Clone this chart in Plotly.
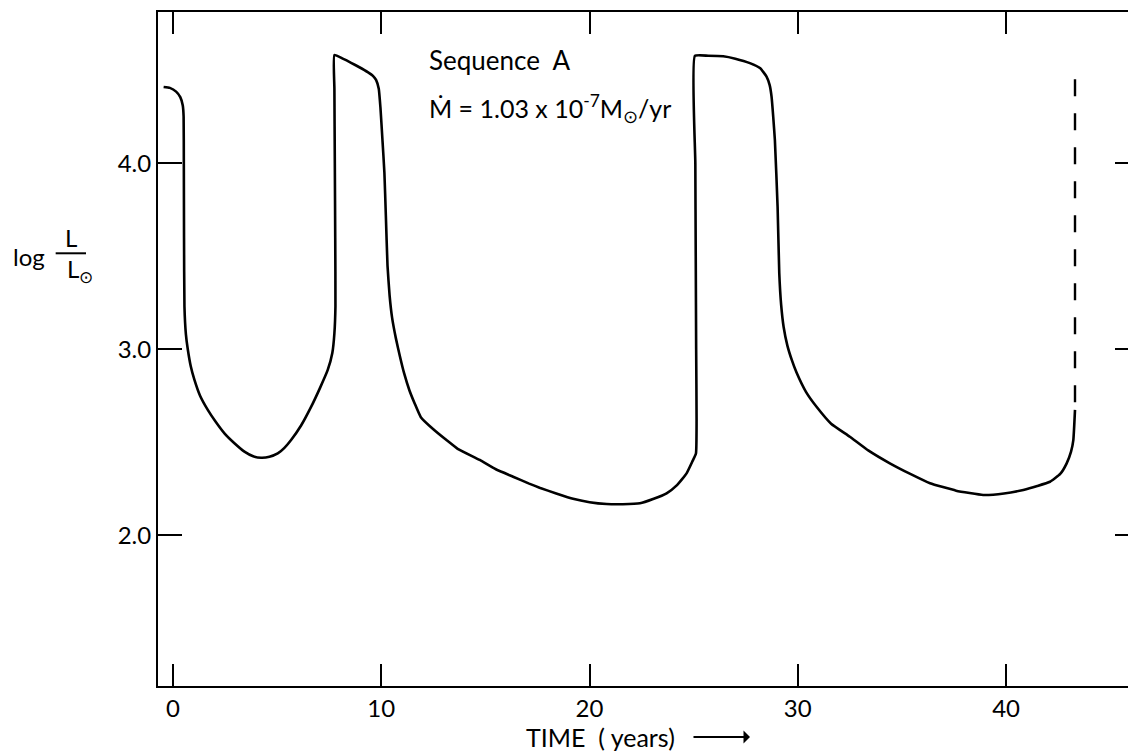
import plotly.graph_objects as go

# Luminosity history of the accreting model (time in years, log L/Lsun)
time_yr = [
    -0.45, -0.15, 0.15, 0.35, 0.47, 0.51, 0.52, 0.53, 0.55, 0.62, 0.71, 0.85,
    1.03, 1.30, 1.67, 2.05, 2.47, 2.95, 3.43, 3.85, 4.23, 4.63, 5.03, 5.35,
    5.67, 6.15, 6.63, 7.05, 7.43, 7.65, 7.75, 7.80, 7.79, 7.77, 7.75, 7.75,
    8.15, 8.55, 8.95, 9.35, 9.60, 9.75, 9.88, 9.96, 10.06, 10.15, 10.22, 10.30,
    10.40, 10.52, 10.70, 10.90, 11.10, 11.35, 11.60, 11.90, 12.50, 13.13, 13.67,
    14.73, 15.50, 16.33, 17.10, 17.60, 18.40, 19.21, 20.00, 20.82, 21.60, 22.42,
    23.05, 23.70, 24.20, 24.66, 24.95, 25.11, 25.14, 25.12, 25.10, 25.08, 25.06,
    25.70, 26.42, 27.00, 27.70, 28.20, 28.50, 28.65, 28.74, 28.82, 28.90, 29.03,
    29.11, 29.20, 29.32, 29.50, 29.72, 29.94, 30.40, 30.90, 31.60, 32.50, 33.40,
    34.42, 35.40, 36.35, 37.60, 38.90, 39.90, 40.83, 41.50, 42.11, 42.60, 42.91,
    43.12, 43.23, 43.31,
]
log_l = [
    4.410, 4.405, 4.385, 4.355, 4.310, 4.250, 4.000, 3.600, 3.230, 3.080, 3.000, 2.910,
    2.835, 2.750, 2.674, 2.610, 2.548, 2.495, 2.450, 2.425, 2.417, 2.422, 2.440, 2.470,
    2.512, 2.590, 2.690, 2.790, 2.889, 2.980, 3.086, 3.230, 3.600, 4.000, 4.400, 4.582,
    4.562, 4.540, 4.516, 4.490, 4.470, 4.448, 4.400, 4.300, 4.120, 3.950, 3.720, 3.450,
    3.290, 3.170, 3.060, 2.960, 2.870, 2.780, 2.710, 2.635, 2.570, 2.512, 2.465,
    2.405, 2.355, 2.315, 2.278, 2.256, 2.225, 2.196, 2.178, 2.168, 2.167, 2.172,
    2.195, 2.226, 2.270, 2.333, 2.400, 2.440, 2.620, 3.000, 3.500, 4.000, 4.577,
    4.578, 4.575, 4.562, 4.538, 4.510, 4.466, 4.420, 4.358, 4.250, 4.125, 3.767,
    3.410, 3.240, 3.120, 3.020, 2.940, 2.875, 2.770, 2.691, 2.600, 2.530, 2.455,
    2.387, 2.330, 2.280, 2.240, 2.217, 2.225, 2.244, 2.265, 2.288, 2.330, 2.387,
    2.450, 2.512, 2.674,
]

# Extrapolated rise of the third flash (dashed), drawn top-down
flash_time = [43.31, 43.31]
flash_log_l = [4.452, 2.674]

x_ticks = [0, 10, 20, 30, 40]
y_ticks = [2.0, 3.0, 4.0]
y_tick_text = ["2.0", "3.0", "4.0"]

FONT = "Lato, 'Open Sans', sans-serif"
X_RANGE = [-0.72, 45.855]
Y_RANGE = [1.19, 4.813]

fig = go.Figure()
fig.add_trace(go.Scatter(
    x=time_yr, y=log_l, mode="lines",
    line=dict(color="black", width=2.6, shape="spline", smoothing=0.4),
    hoverinfo="skip", showlegend=False,
))
fig.add_trace(go.Scatter(
    x=flash_time, y=flash_log_l, mode="lines", yaxis="y2",
    line=dict(color="black", width=2.4, dash="17px,17px"),
    hoverinfo="skip", showlegend=False,
))

fig.update_layout(
    width=1128, height=753,
    margin=dict(l=158, r=0, t=12, b=67),
    paper_bgcolor="white", plot_bgcolor="white",
    font=dict(family=FONT, size=24, color="black"),
    xaxis=dict(
        range=X_RANGE, tickvals=x_ticks, ticktext=[str(v) for v in x_ticks],
        ticks="inside", ticklen=22, tickwidth=1.5, tickcolor="black",
        showline=True, linecolor="black", linewidth=2, mirror="ticks",
        showgrid=False, zeroline=False, tickfont=dict(size=24),
    ),
    yaxis=dict(
        range=Y_RANGE, tickvals=y_ticks, ticktext=y_tick_text,
        ticks="inside", ticklen=24, tickwidth=1.5, tickcolor="black",
        showline=True, linecolor="black", linewidth=2, mirror=False,
        showgrid=False, zeroline=False, tickfont=dict(size=24),
    ),
    yaxis2=dict(
        range=Y_RANGE, tickvals=y_ticks, overlaying="y", side="right",
        ticks="inside", ticklen=13, tickwidth=1.5, tickcolor="black",
        showticklabels=False, showline=False, showgrid=False, zeroline=False,
    ),
)

# Axis labels
fig.add_annotation(
    xref="paper", yref="paper", x=0.4567, y=-0.0757, xanchor="center", yanchor="middle",
    text="TIME\u00a0\u00a0(\u00a0years)", showarrow=False, font=dict(size=25),
)
fig.add_annotation(
    xref="paper", yref="paper", x=0.6103, y=-0.0757, ax=-58, ay=0,
    text="", showarrow=True, arrowhead=1, arrowsize=1.2, arrowwidth=1.8, arrowcolor="black",
)
fig.add_annotation(
    xref="paper", yref="paper", x=-0.133, y=0.637, xanchor="center", yanchor="middle",
    text="log", showarrow=False, font=dict(size=24),
)
fig.add_annotation(
    xref="paper", yref="paper", x=-0.0897, y=0.6647, xanchor="center", yanchor="middle",
    text="L", showarrow=False, font=dict(size=24),
)
fig.add_annotation(
    xref="paper", yref="paper", x=-0.0959, y=0.6165, xanchor="left", yanchor="middle",
    text="L<sub>\u2299</sub>", showarrow=False, font=dict(size=24),
)
fig.add_shape(
    type="line", xref="paper", yref="paper",
    x0=-0.1055, x1=-0.0742, y0=0.642, y1=0.642,
    line=dict(color="black", width=2),
)

# Model description
fig.add_annotation(
    xref="paper", yref="paper", x=0.2773, y=0.9288, xanchor="left", yanchor="middle",
    text="Sequence\u00a0\u00a0A", showarrow=False, font=dict(size=26),
)
fig.add_annotation(
    xref="paper", yref="paper", x=0.2773, y=0.857, xanchor="left", yanchor="middle",
    text="\u1e40 = 1.03 x 10<sup>-7</sup>M<sub>\u2299</sub>/yr", showarrow=False,
    font=dict(size=25),
)

fig.write_html("out.html")
